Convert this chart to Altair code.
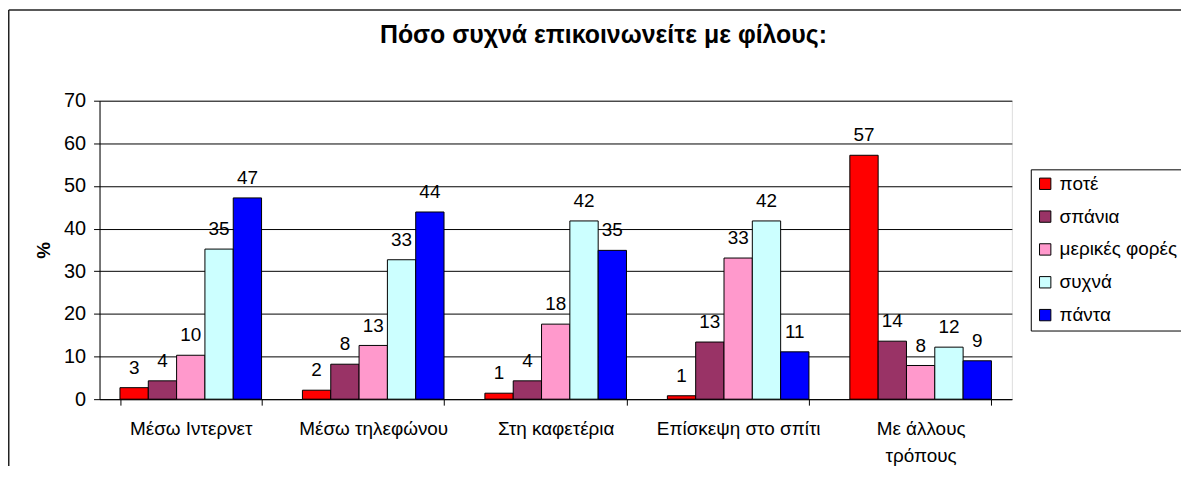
import altair as alt
import pandas as pd

title_text = "Πόσο συχνά επικοινωνείτε με φίλους:"
categories = ["Μέσω Ιντερνετ", "Μέσω τηλεφώνου", "Στη καφετέρια", "Επίσκεψη στο σπίτι", "Με άλλους τρόπους"]
series = ["ποτέ", "σπάνια", "μερικές φορές", "συχνά", "πάντα"]
pote = [2.7, 2.1, 1.4, 0.8, 57.2]
spania = [4.3, 8.2, 4.3, 13.4, 13.6]
merikes = [10.3, 12.6, 17.6, 33.1, 7.9]
sixna = [35.2, 32.7, 41.8, 41.8, 12.2]
panta = [47.2, 43.9, 34.9, 11.1, 9.0]
colors = ["#FF0000", "#993366", "#FF99CC", "#CCFFFF", "#0000FF"]
y_ticks = [0, 10, 20, 30, 40, 50, 60, 70]

FONT = "Liberation Sans"
values_by_series = [pote, spania, merikes, sixna, panta]
rows = []
for s, vals in zip(series, values_by_series):
    for c, v in zip(categories, vals):
        rows.append({"category": c, "series": s, "value": v})
df = pd.DataFrame(rows)

W, H = 917, 300

x_enc = alt.X(
    "category:N",
    sort=categories,
    scale=alt.Scale(paddingInner=0.224, paddingOuter=0.112),
    axis=alt.Axis(
        title=None,
        labelFont=FONT,
        labelFontSize=19,
        labelColor="#000",
        labelAngle=0,
        labelPadding=15,
        labelLineHeight=27,
        labelExpr="datum.value == 'Με άλλους τρόπους' ? ['Με άλλους', 'τρόπους'] : datum.value",
        tickBand="extent",
        tickSize=6,
        tickColor="#000",
        domainColor="#000",
        grid=False,
    ),
)
xoff_enc = alt.XOffset("series:N", sort=series, scale=alt.Scale(paddingInner=0, paddingOuter=0))
y_enc = alt.Y(
    "value:Q",
    scale=alt.Scale(domain=[0, 70], nice=False, zero=True),
    axis=alt.Axis(
        values=y_ticks,
        title="%",
        titleFont=FONT,
        titleFontSize=19,
        titleFontWeight="bold",
        titleAngle=270,
        titleX=-56,
        titleY=H / 2,
        titleAlign="center",
        titleBaseline="middle",
        titleColor="#000",
        labelFont=FONT,
        labelFontSize=20,
        labelColor="#000",
        labelPadding=8,
        tickSize=6,
        tickColor="#000",
        domainColor="#000",
        grid=True,
        gridColor="#000",
        gridWidth=1,
    ),
)

base = alt.Chart(df)
bars = base.mark_bar(stroke="#000", strokeWidth=1).encode(
    x=x_enc,
    xOffset=xoff_enc,
    y=y_enc,
    color=alt.Color(
        "series:N",
        sort=series,
        scale=alt.Scale(domain=series, range=colors),
        legend=alt.Legend(
            title=None,
            orient="none",
            legendX=936,
            legendY=69,
            labelFont=FONT,
            labelFontSize=19,
            labelColor="#000",
            symbolType="square",
            symbolSize=130,
            symbolStrokeColor="#000",
            symbolStrokeWidth=1,
            rowPadding=13,
            padding=5,
            labelOffset=5,
            strokeColor="#000",
            fillColor="#fff",
        ),
    ),
)
labels = base.mark_text(font=FONT, fontSize=19, color="#000", baseline="alphabetic", dy=-14).encode(
    x=alt.X("category:N", sort=categories),
    xOffset=xoff_enc,
    y=alt.Y("value:Q"),
    text=alt.Text("value:Q", format=".0f"),
)
frame_df = pd.DataFrame({"f": [0]})
frame_left = alt.Chart(frame_df).mark_rule(stroke="#222", strokeWidth=1.5).encode(
    x=alt.value(-91.25), y=alt.value(-91.25), y2=alt.value(H + 120)
)
frame_top = alt.Chart(frame_df).mark_rule(stroke="#222", strokeWidth=1.5).encode(
    x=alt.value(-91.25), x2=alt.value(W + 200), y=alt.value(-91.25)
)

chart = (
    alt.layer(frame_left, frame_top, bars, labels)
    .properties(
        width=W,
        height=H,
        title=alt.TitleParams(
            text=title_text,
            font=FONT,
            fontSize=25,
            fontWeight="bold",
            color="#000",
            anchor="middle",
            frame="group",
            dx=48,
            offset=-59,
            baseline="alphabetic",
        ),
        autosize=alt.AutoSizeParams(type="none"),
        padding={"left": 92, "top": 92, "right": 170, "bottom": 66},
    )
    .configure_view(stroke="#808080", strokeWidth=1)
    .configure(background="#ffffff")
)

chart.save("out.html", embed_options={"renderer": "svg", "actions": False})
